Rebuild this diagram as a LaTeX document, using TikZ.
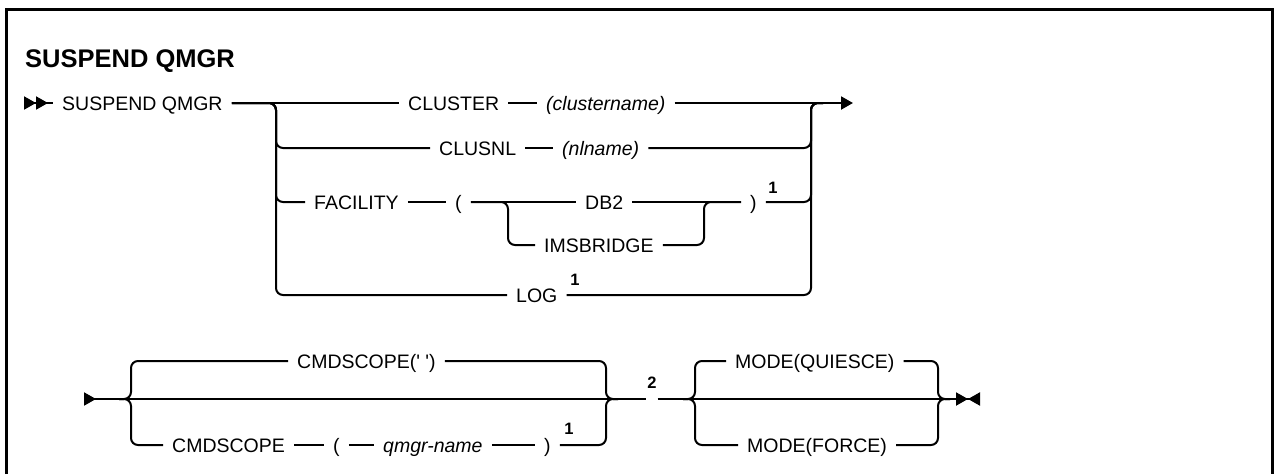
\documentclass[tikz,border=0pt]{standalone}
\usepackage{fontspec}
\setmainfont{Liberation Sans}
\usetikzlibrary{positioning,arrows.meta}

\newcommand{\kwfont}{\fontsize{19.5}{23}\selectfont}
\newcommand{\varfont}{\fontsize{19.5}{23}\selectfont\itshape}
\newcommand{\notefont}{\fontsize{16.5}{19}\selectfont\bfseries}
\newcommand{\headfont}{\fontsize{25.5}{30}\selectfont\bfseries}

\begin{document}
\begin{tikzpicture}[
  x=1pt, y=-1pt,
  kw/.style={anchor=west,inner xsep=9pt,inner ysep=0pt,text height=14pt,
             text depth=0pt,font=\kwfont},
  var/.style={kw,font=\varfont},
  note/.style={inner sep=0pt,font=\notefont},
  rail/.style={line width=2pt,rounded corners=7pt},
  rtip/.tip={Triangle[length=12pt,width=13pt]}
]
\useasboundingbox (0,0) rectangle (1274,474);

% ---- frame (open at the bottom) ----
\draw[line width=3pt] (6,474) -- (6,9) -- (1272,9) -- (1272,474);
\node[font=\headfont,anchor=base west,inner sep=0pt] (title) at (25,67) {SUSPEND QMGR};

% ===================== first rail =====================
\coordinate (start1) at (24,103);
\coordinate (jl) at (276,103);
\coordinate (jr) at (811,103);
\coordinate (out1) at (853,103);
\coordinate (jil) at (508,202);
\coordinate (jir) at (704,202);
\node[kw] (sq) at (53,103) {SUSPEND QMGR};
\node[kw] (cluster) at (399,103) {CLUSTER};
\node[var] (clname) at (537,103) {(clustername)};
\node[kw] (clusnl) at (430,148) {CLUSNL};
\node[var] (nlname) at (553,148) {(nlname)};
\node[kw] (facility) at (305,202) {FACILITY};
\node[kw] (lpar) at (446,202) {(};
\node[kw] (db2) at (576,202) {DB2};
\node[kw] (imsb) at (535,245) {IMSBRIDGE};
\node[kw] (rpar) at (741,202) {)};
\node[note] (fn1a) at (773,188) {1};
\node[kw] (log) at (507,295) {LOG};
\node[note] (fn1b) at (575,280) {1};

\draw[rail,{rtip[reversed]rtip[reversed]}-] (start1) -- (sq.west);
\draw[rail] (sq.east) -- (cluster.west);
\draw[rail] (cluster.east) -- (clname.west);
\draw[rail,-{rtip[]}] (clname.east) -- (out1);
\draw[rail] (clusnl.east) -- (nlname.west);
\draw[rail] (facility.east) -- (lpar.west);
\draw[rail] (lpar.east) -- (db2.west);
\draw[rail] (db2.east) -- (rpar.west);
\draw[rail] (lpar.east) -- (jil) |- (imsb.west);
\draw[rail] (imsb.east) -| (jir) -- (rpar.west);
% branches off and back onto the main rail
\foreach \n in {clusnl,facility,log}
  \draw[rail] (sq.east) -- (jl) |- (\n.west);
\foreach \n in {nlname,rpar,log}
  \draw[rail] (\n.east) -| (jr) -- ++(12,0);

% ===================== second rail =====================
\coordinate (start2) at (84,399);
\coordinate (jbl) at (131,399);
\coordinate (jbr) at (606,399);
\coordinate (jml) at (695,399);
\coordinate (jmr) at (938,399);
\coordinate (end2) at (980,399);
\node[kw] (cq) at (288,361) {CMDSCOPE(\textquotesingle\ \textquotesingle)};
\node[kw] (cmds) at (163,445) {CMDSCOPE};
\node[kw] (lpar2) at (324,445) {(};
\node[var] (qmgr) at (374,445) {qmgr-name};
\node[kw] (rpar2) at (535,445) {)};
\node[note] (fn1c) at (569,429) {1};
\node[inner sep=0pt,minimum width=11pt] (gap2) at (652,399) {};
\node[note] (fn2) at (652,383) {2};
\node[kw] (mq) at (726,361) {MODE(QUIESCE)};
\node[kw] (mf) at (738,445) {MODE(FORCE)};

\draw[rail,{rtip[reversed]}-] (start2) -- (gap2.west);
\draw[rail,-{rtip[]rtip[reversed]}] (gap2.east) -- (end2);
\draw[rail] (cmds.east) -- (lpar2.west);
\draw[rail] (lpar2.east) -- (qmgr.west);
\draw[rail] (qmgr.east) -- (rpar2.west);
\foreach \n in {cq,cmds}
  \draw[rail] (jbl) ++(-12,0) -- (jbl) |- (\n.west);
\foreach \n in {cq,rpar2}
  \draw[rail] (\n.east) -| (jbr) -- ++(12,0);
\foreach \n in {mq,mf}
  \draw[rail] (jml) ++(-12,0) -- (jml) |- (\n.west);
\foreach \n in {mq,mf}
  \draw[rail] (\n.east) -| (jmr) -- ++(12,0);

\end{tikzpicture}
\end{document}
